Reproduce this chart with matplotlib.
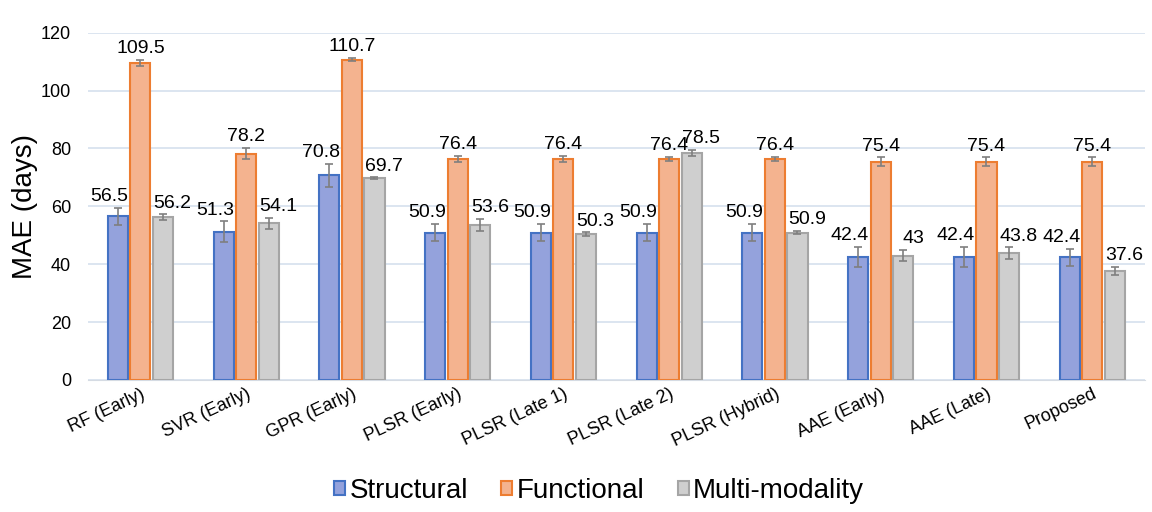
import numpy as np
import matplotlib.pyplot as plt

plt.rcParams['font.family'] = ['Liberation Sans', 'DejaVu Sans']

methods = ['RF (Early)', 'SVR (Early)', 'GPR (Early)', 'PLSR (Early)', 'PLSR (Late 1)',
           'PLSR (Late 2)', 'PLSR (Hybrid)', 'AAE (Early)', 'AAE (Late)', 'Proposed']
structural = [56.5, 51.3, 70.8, 50.9, 50.9, 50.9, 50.9, 42.4, 42.4, 42.4]
functional = [109.5, 78.2, 110.7, 76.4, 76.4, 76.4, 76.4, 75.4, 75.4, 75.4]
multimodal = [56.2, 54.1, 69.7, 53.6, 50.3, 78.5, 50.9, 43, 43.8, 37.6]
err_structural = [3, 3.5, 4, 3, 3, 3, 3, 3.5, 3.5, 3]
err_functional = [1, 2, 0.5, 1, 1, 0.7, 0.7, 1.5, 1.5, 1.5]
err_multimodal = [1, 2, 0.3, 2, 0.7, 1, 0.5, 2, 2, 1.5]

series = [
    ('Structural', structural, err_structural, '#94a2dc', '#4472c4', -6),
    ('Functional', functional, err_functional, '#f4b38f', '#ed7d31', 0),
    ('Multi-modality', multimodal, err_multimodal, '#cfcfcf', '#a5a5a5', 7),
]

x = np.arange(len(methods))
step = 0.213
width = 0.19

fig, ax = plt.subplots(figsize=(11.52, 5.12), dpi=100)
fig.subplots_adjust(left=0.076, right=0.994, bottom=0.258, top=0.936)

for k, (name, vals, errs, fill, edge, dx) in enumerate(series):
    pos = x + (k - 1) * step
    ax.bar(pos, vals, width, color=fill, edgecolor=edge, linewidth=1.5,
           label=name, zorder=3)
    ax.errorbar(pos, vals, yerr=errs, fmt='none', ecolor='#7f7f7f',
                elinewidth=1.2, capsize=3, capthick=1.2, zorder=4)
    for p, v, e in zip(pos, vals, errs):
        ax.annotate(f'{v:g}', (p, v + e), xytext=(dx, 2), textcoords='offset points',
                    ha='center', va='bottom', fontsize=14, zorder=5)

ax.set_xlim(-0.5, len(methods) - 0.5)
ax.set_ylim(0, 120)
ax.set_yticks(range(0, 121, 20))
ax.tick_params(axis='y', length=0, labelsize=13, pad=12)
ax.tick_params(axis='x', length=0, labelsize=13, pad=4)
ax.set_xticks(x)
ax.set_xticklabels(methods, rotation=25, ha='right', rotation_mode='anchor')
ax.set_ylabel('MAE (days)', fontsize=20, labelpad=2)
ax.grid(axis='y', color='#d5e0ee', linewidth=1.2, zorder=0)
for side in ['top', 'right', 'left']:
    ax.spines[side].set_visible(False)
ax.spines['bottom'].set_color('#d5dbe3')

fig.legend(*ax.get_legend_handles_labels(), loc='center', bbox_to_anchor=(0.52, 0.041),
           ncol=3, frameon=False, fontsize=20, handlelength=0.4, handleheight=0.4,
           handletextpad=0.15, columnspacing=1.2)

plt.savefig('out.png')
